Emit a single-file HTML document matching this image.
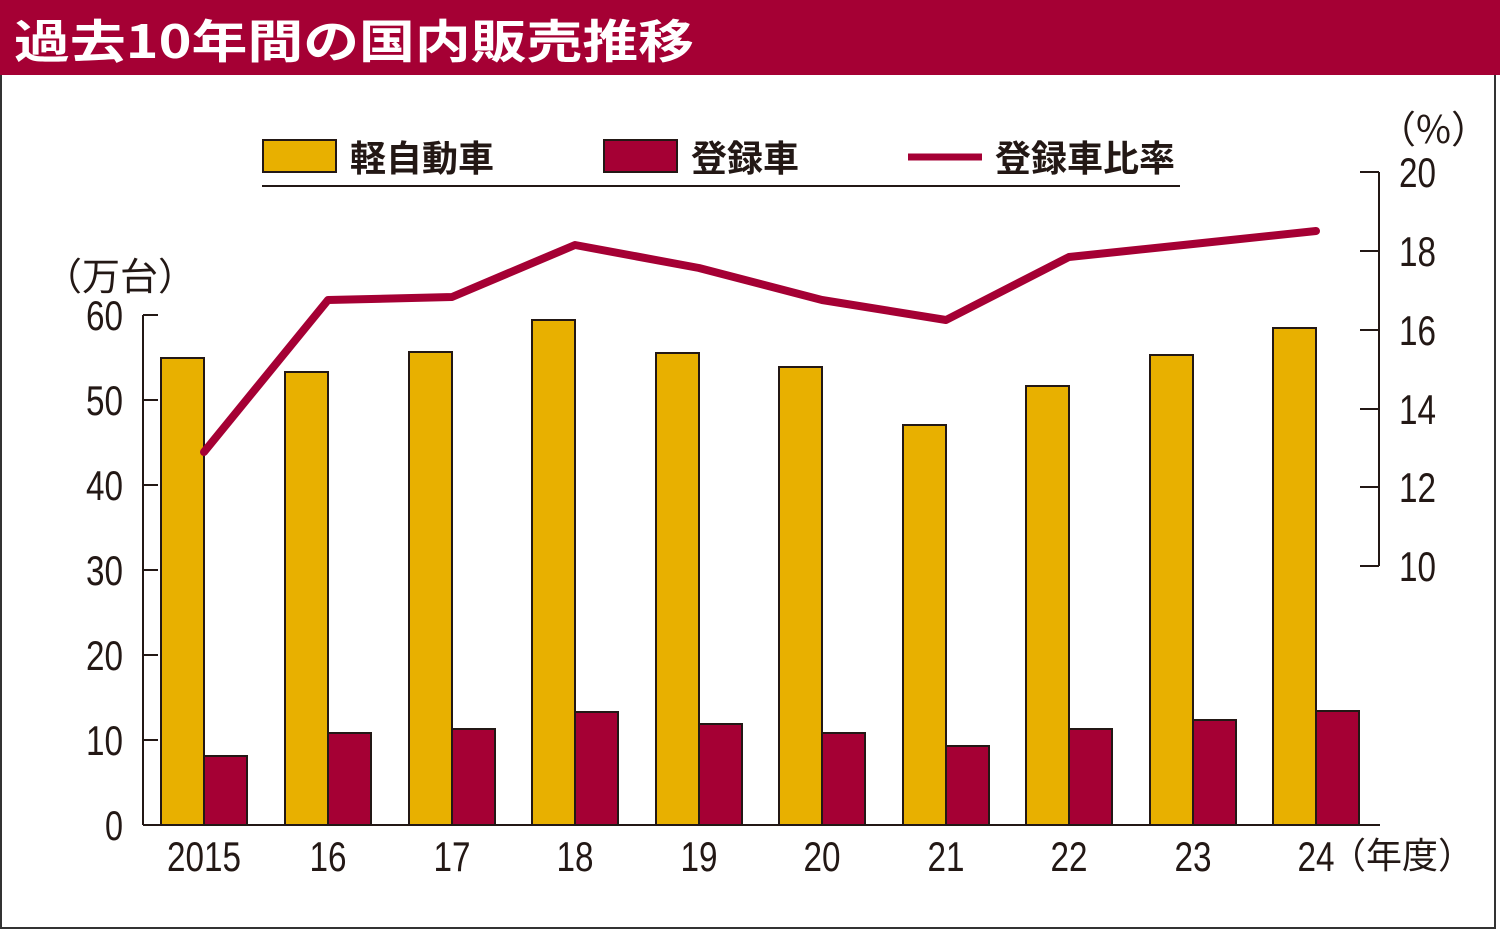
<!DOCTYPE html>
<html><head><meta charset="utf-8"><style>
body{margin:0;background:#fff}
svg{display:block}
text{font-family:"Liberation Sans","Noto Sans CJK JP",sans-serif;fill:#231815}
.j{font-family:"Noto Sans CJK JP",sans-serif}
</style></head><body>
<svg width="1500" height="931" viewBox="0 0 1500 931" xmlns="http://www.w3.org/2000/svg">
<rect x="0" y="0" width="1500" height="931" fill="#fff"/>
<rect x="1" y="1" width="1494" height="927" fill="none" stroke="#333" stroke-width="2"/>
<rect x="0" y="0" width="1500" height="75" fill="#a50034"/>
<text x="14" y="58" class="j" font-size="46" font-weight="bold" style="fill:#fff" textLength="680" lengthAdjust="spacingAndGlyphs">過去10年間の国内販売推移</text>
<rect x="263" y="140" width="73" height="32" fill="#e8b000" stroke="#231815" stroke-width="2"/>
<text x="350" y="171" class="j" font-size="36" font-weight="bold">軽自動車</text>
<rect x="604" y="140" width="73" height="32" fill="#a50034" stroke="#231815" stroke-width="2"/>
<text x="691" y="171" class="j" font-size="36" font-weight="bold">登録車</text>
<line x1="908" y1="157" x2="982" y2="157" stroke="#a50034" stroke-width="7"/>
<text x="995" y="171" class="j" font-size="36" font-weight="bold">登録車比率</text>
<line x1="262" y1="186" x2="1180" y2="186" stroke="#231815" stroke-width="2"/>
<text x="44" y="290" class="j" font-size="38">（万台）</text>
<g stroke="#231815" stroke-width="2" fill="none">
<line x1="143" y1="315" x2="143" y2="825"/>
<line x1="143" y1="825" x2="1380" y2="825"/>
<line x1="143" y1="315" x2="158" y2="315"/>
<line x1="143" y1="400" x2="158" y2="400"/>
<line x1="143" y1="485" x2="158" y2="485"/>
<line x1="143" y1="570" x2="158" y2="570"/>
<line x1="143" y1="655" x2="158" y2="655"/>
<line x1="143" y1="740" x2="158" y2="740"/>
<line x1="1379" y1="172" x2="1379" y2="566"/>
<line x1="1360" y1="172" x2="1379" y2="172"/>
<line x1="1360" y1="251" x2="1379" y2="251"/>
<line x1="1360" y1="330" x2="1379" y2="330"/>
<line x1="1360" y1="409" x2="1379" y2="409"/>
<line x1="1360" y1="487" x2="1379" y2="487"/>
<line x1="1360" y1="566" x2="1379" y2="566"/>
</g>
<g font-size="42" text-anchor="end" lengthAdjust="spacingAndGlyphs">
<text x="123" y="330" textLength="37" lengthAdjust="spacingAndGlyphs">60</text>
<text x="123" y="415" textLength="37" lengthAdjust="spacingAndGlyphs">50</text>
<text x="123" y="500" textLength="37" lengthAdjust="spacingAndGlyphs">40</text>
<text x="123" y="585" textLength="37" lengthAdjust="spacingAndGlyphs">30</text>
<text x="123" y="670" textLength="37" lengthAdjust="spacingAndGlyphs">20</text>
<text x="123" y="755" textLength="37" lengthAdjust="spacingAndGlyphs">10</text>
<text x="123" y="840" textLength="18" lengthAdjust="spacingAndGlyphs">0</text>
</g>
<g font-size="42">
<text x="1399" y="187" textLength="37" lengthAdjust="spacingAndGlyphs">20</text>
<text x="1399" y="266" textLength="37" lengthAdjust="spacingAndGlyphs">18</text>
<text x="1399" y="345" textLength="37" lengthAdjust="spacingAndGlyphs">16</text>
<text x="1399" y="424" textLength="37" lengthAdjust="spacingAndGlyphs">14</text>
<text x="1399" y="502" textLength="37" lengthAdjust="spacingAndGlyphs">12</text>
<text x="1399" y="581" textLength="37" lengthAdjust="spacingAndGlyphs">10</text>
</g>
<text x="1378" y="143" class="j" font-size="38">（%）</text>
<g stroke="#231815" stroke-width="2">
<rect x="161" y="358" width="43" height="467" fill="#e8b000"/><rect x="204" y="756" width="43" height="69" fill="#a50034"/>
<rect x="285" y="372" width="43" height="453" fill="#e8b000"/><rect x="328" y="733" width="43" height="92" fill="#a50034"/>
<rect x="409" y="352" width="43" height="473" fill="#e8b000"/><rect x="452" y="729" width="43" height="96" fill="#a50034"/>
<rect x="532" y="320" width="43" height="505" fill="#e8b000"/><rect x="575" y="712" width="43" height="113" fill="#a50034"/>
<rect x="656" y="353" width="43" height="472" fill="#e8b000"/><rect x="699" y="724" width="43" height="101" fill="#a50034"/>
<rect x="779" y="367" width="43" height="458" fill="#e8b000"/><rect x="822" y="733" width="43" height="92" fill="#a50034"/>
<rect x="903" y="425" width="43" height="400" fill="#e8b000"/><rect x="946" y="746" width="43" height="79" fill="#a50034"/>
<rect x="1026" y="386" width="43" height="439" fill="#e8b000"/><rect x="1069" y="729" width="43" height="96" fill="#a50034"/>
<rect x="1150" y="355" width="43" height="470" fill="#e8b000"/><rect x="1193" y="720" width="43" height="105" fill="#a50034"/>
<rect x="1273" y="328" width="43" height="497" fill="#e8b000"/><rect x="1316" y="711" width="43" height="114" fill="#a50034"/>
</g>
<polyline points="204,452 328,300 452,297 575,245 699,268 822,300 946,320 1069,257 1193,244 1316,231" fill="none" stroke="#a50034" stroke-width="8" stroke-linejoin="round" stroke-linecap="round"/>
<g font-size="42" text-anchor="middle">
<text x="204" y="871" textLength="74" lengthAdjust="spacingAndGlyphs">2015</text>
<text x="328" y="871" textLength="37" lengthAdjust="spacingAndGlyphs">16</text>
<text x="452" y="871" textLength="37" lengthAdjust="spacingAndGlyphs">17</text>
<text x="575" y="871" textLength="37" lengthAdjust="spacingAndGlyphs">18</text>
<text x="699" y="871" textLength="37" lengthAdjust="spacingAndGlyphs">19</text>
<text x="822" y="871" textLength="37" lengthAdjust="spacingAndGlyphs">20</text>
<text x="946" y="871" textLength="37" lengthAdjust="spacingAndGlyphs">21</text>
<text x="1069" y="871" textLength="37" lengthAdjust="spacingAndGlyphs">22</text>
<text x="1193" y="871" textLength="37" lengthAdjust="spacingAndGlyphs">23</text>
<text x="1316" y="871" textLength="37" lengthAdjust="spacingAndGlyphs">24</text>
</g>
<text x="1330" y="868" class="j" font-size="36">（年度）</text>
</svg>
</body></html>
